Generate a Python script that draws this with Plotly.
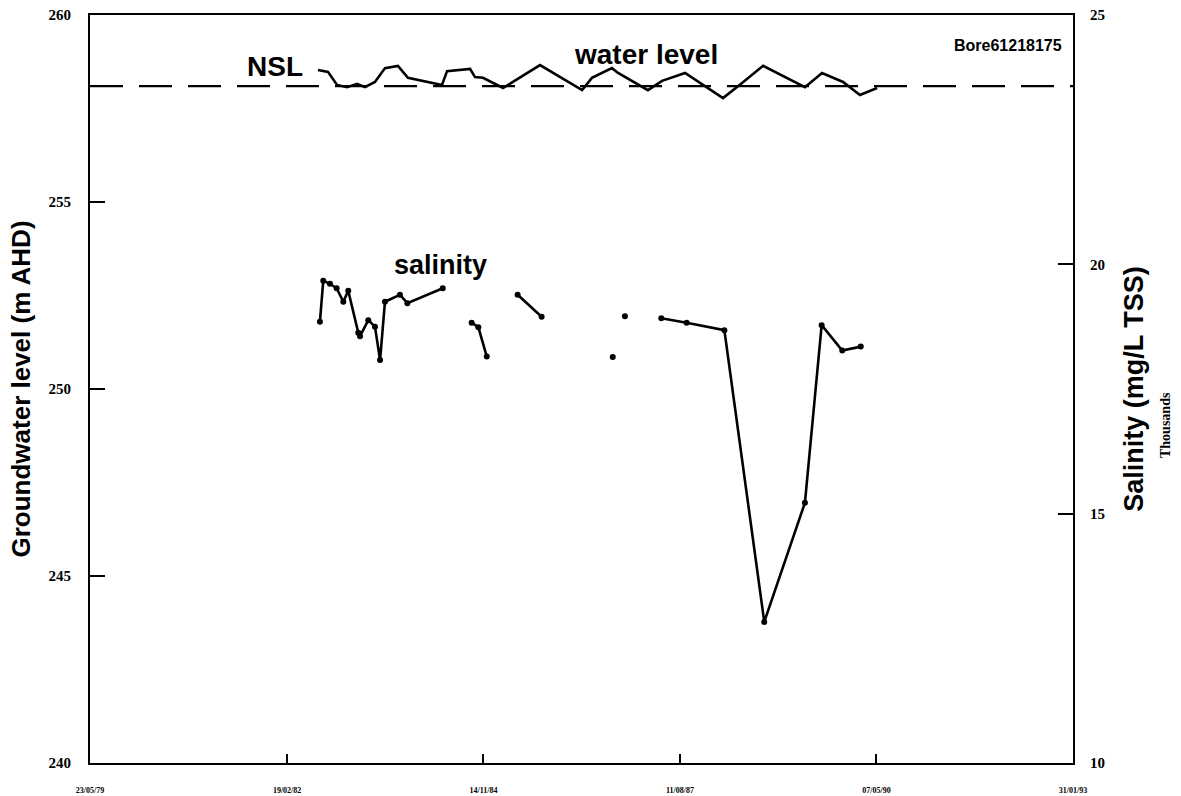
import plotly.graph_objects as go

# Groundwater level (m AHD) observations
wl_dates = [
    "1982-07-26", "1982-09-15", "1982-10-31", "1982-12-21", "1983-02-10",
    "1983-03-22", "1983-05-12", "1983-07-02", "1983-09-06", "1983-10-27",
    "1984-04-17", "1984-05-13", "1984-09-07", "1984-10-02", "1984-11-12",
    "1985-02-22", "1985-04-13", "1985-08-29", "1986-03-31", "1986-05-20",
    "1986-08-30", "1986-09-30", "1987-03-01", "1987-05-12", "1987-09-06",
    "1988-03-17", "1988-06-22", "1988-10-07", "1989-05-08", "1989-08-03",
    "1989-11-18", "1990-02-12", "1990-05-10",
]
wl_values = [
    258.53, 258.48, 258.13, 258.07, 258.16,
    258.07, 258.21, 258.58, 258.64, 258.32,
    258.13, 258.50, 258.56, 258.34, 258.32,
    258.05, 258.21, 258.66, 257.99, 258.32,
    258.58, 258.45, 257.99, 258.24, 258.45,
    257.78, 258.18, 258.64, 258.07, 258.45,
    258.21, 257.86, 258.05,
]

# Salinity (thousand mg/L TSS); None marks a break between sampling runs
sal_dates = [
    "1982-08-05", "1982-08-22", "1982-09-25", "1982-10-29", "1982-12-02",
    "1982-12-27", "1983-02-16", "1983-02-25", "1983-04-08", "1983-05-12",
    "1983-06-07", "1983-07-02", "1983-09-16", "1983-10-24", "1984-04-21",
    None,
    "1984-09-15", "1984-10-19", "1984-12-01",
    None,
    "1985-05-07", "1985-09-06",
    None,
    "1986-09-03",
    None,
    "1986-11-04",
    None,
    "1987-05-08", "1987-09-14", "1988-03-24", "1988-10-13", "1989-05-08",
    "1989-08-01", "1989-11-14", "1990-02-16",
]
sal_values = [
    18.85, 19.67, 19.61, 19.52, 19.25,
    19.47, 18.63, 18.56, 18.88, 18.75,
    18.08, 19.25, 19.39, 19.22, 19.52,
    None,
    18.83, 18.74, 18.15,
    None,
    19.39, 18.95,
    None,
    18.14,
    None,
    18.96,
    None,
    18.92, 18.83, 18.68, 12.83, 15.22,
    18.78, 18.27, 18.35,
]

nsl_level = 258.1

x_range = ["1979-05-23", "1993-01-31"]
x_tick_vals = ["1979-05-23", "1982-02-19", "1984-11-14", "1987-08-11", "1990-05-07", "1993-01-31"]
x_tick_text = ["23/05/79", "19/02/82", "14/11/84", "11/08/87", "07/05/90", "31/01/93"]
gw_ticks = [240, 245, 250, 255, 260]
sal_ticks = [10, 15, 20, 25]

SANS = "Liberation Sans, Arial, sans-serif"
SERIF = "Liberation Serif, Times New Roman, serif"

fig = go.Figure()

fig.add_trace(go.Scatter(
    x=wl_dates, y=wl_values, mode="lines",
    line=dict(color="black", width=2.6),
    yaxis="y", showlegend=False, hoverinfo="skip",
))

fig.add_trace(go.Scatter(
    x=sal_dates, y=sal_values, mode="lines+markers",
    line=dict(color="black", width=2.6),
    marker=dict(color="black", size=6),
    connectgaps=False,
    yaxis="y2", showlegend=False, hoverinfo="skip",
))

# Natural surface level reference line
fig.add_shape(
    type="line", xref="paper", yref="y",
    x0=0, x1=1, y0=nsl_level, y1=nsl_level,
    line=dict(color="black", width=2.2, dash="33px,16px"),
    layer="below",
)

fig.update_layout(
    width=1181, height=796,
    margin=dict(l=90, r=108, t=15, b=33),
    paper_bgcolor="white", plot_bgcolor="white",
    xaxis=dict(
        type="date", range=x_range, automargin=False,
        tickvals=x_tick_vals, ticktext=x_tick_text,
        ticks="inside", ticklen=9, tickwidth=2, tickcolor="black",
        showline=True, linecolor="black", linewidth=2.2, mirror=True,
        showgrid=False, zeroline=False,
        tickfont=dict(family=SERIF, size=8, color="black", weight="bold"),
        ticklabelstandoff=18,
    ),
    yaxis=dict(
        range=[240, 260], tickvals=gw_ticks, automargin=False,
        ticks="inside", ticklen=15, tickwidth=1.8, tickcolor="black",
        showline=True, linecolor="black", linewidth=2.2, mirror=True,
        showgrid=False, zeroline=False,
        tickfont=dict(family=SERIF, size=15, color="black", weight="bold"),
        ticklabelstandoff=14,
        title=dict(text="Groundwater level (m AHD)",
                   font=dict(family=SANS, size=26, color="black", weight="bold"),
                   standoff=10),
    ),
    yaxis2=dict(
        range=[10, 25], tickvals=sal_ticks, automargin=False,
        overlaying="y", side="right", anchor="x",
        ticks="inside", ticklen=15, tickwidth=1.8, tickcolor="black",
        showline=True, linecolor="black", linewidth=2.2,
        showgrid=False, zeroline=False,
        tickfont=dict(family=SERIF, size=15, color="black", weight="bold"),
        ticklabelstandoff=12,
        title=dict(text="Salinity (mg/L TSS)",
                   font=dict(family=SANS, size=27, color="black", weight="bold"),
                   standoff=20),
    ),
    annotations=[
        dict(text="NSL", x=245, y=66, xref="paper", yref="paper", showarrow=False),
        dict(text="water level", x=646, y=55, xref="paper", yref="paper", showarrow=False),
        dict(text="salinity", x=440, y=265, xref="paper", yref="paper", showarrow=False),
        dict(text="Bore61218175", x=1008, y=45, xref="paper", yref="paper", showarrow=False),
        dict(text="Thousands", x=1165, y=425, xref="paper", yref="paper", showarrow=False),
    ],
)

# Convert the label pixel anchors above into paper coordinates
plot_l, plot_r, plot_t, plot_b = 90, 1073, 15, 763
styles = {
    "NSL": dict(family=SANS, size=28, weight="bold"),
    "water level": dict(family=SANS, size=28, weight="bold"),
    "salinity": dict(family=SANS, size=27, weight="bold"),
    "Bore61218175": dict(family=SANS, size=16, weight="bold"),
    "Thousands": dict(family=SERIF, size=14, weight="bold"),
}
new_ann = []
for a in fig.layout.annotations:
    px, py = a.x, a.y
    d = dict(
        text=a.text, showarrow=False, xref="paper", yref="paper",
        x=(px - plot_l) / (plot_r - plot_l),
        y=(plot_b - py) / (plot_b - plot_t),
        xanchor="left" if a.text == "NSL" else "center", yanchor="middle",
        font=dict(color="black", **styles[a.text]),
    )
    if a.text == "Thousands":
        d["textangle"] = -90
    new_ann.append(d)
fig.layout.annotations = new_ann

fig.write_html("out.html")
